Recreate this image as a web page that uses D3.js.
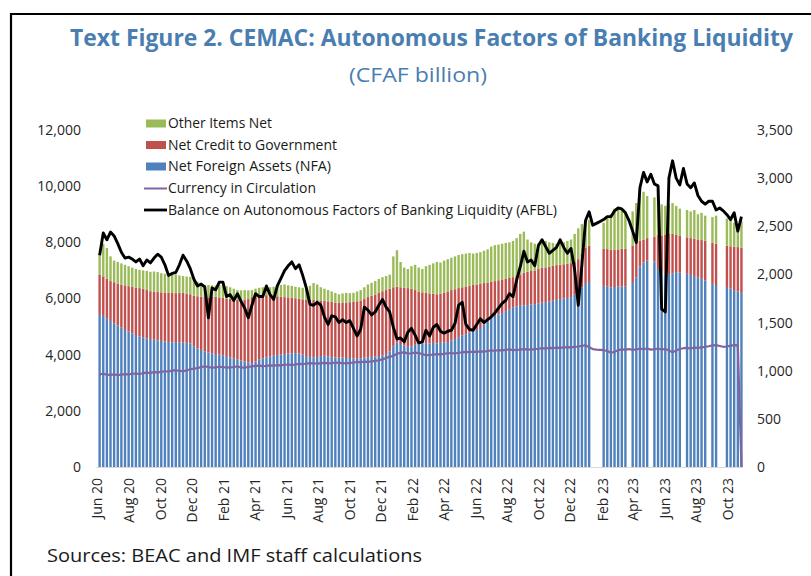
<!DOCTYPE html>
<html><head><meta charset="utf-8">
<script src="https://cdn.jsdelivr.net/npm/d3@7"></script>
<style>body{margin:0;background:#fff;} svg{display:block;font-family:"Open Sans",sans-serif;}</style>
</head><body><svg id="c" width="811" height="576"></svg>
<script>
// ---- data ----
const firstWeek = "2020-06-05", lastWeek = "2023-10-27";   // weekly observations
const tickLabels = ["Jun 20","Aug 20","Oct 20","Dec 20","Feb 21","Apr 21","Jun 21","Aug 21","Oct 21","Dec 21","Feb 22","Apr 22","Jun 22","Aug 22","Oct 22","Dec 22","Feb 23","Apr 23","Jun 23","Aug 23","Oct 23"];
const leftTicks = [0,2000,4000,6000,8000,10000,12000];
const rightTicks = [0,500,1000,1500,2000,2500,3000,3500];
const seriesNames = ["Other Items Net","Net Credit to Government","Net Foreign Assets (NFA)","Currency in Circulation","Balance on Autonomous Factors of Banking Liquidity (AFBL)"];

const nfa = [5450,5380,5300,5200,5120,5040,4960,4880,4820,4760,
 4700,4650,4620,4580,4560,4530,4510,4490,4470,4450,
 4440,4450,4430,4440,4420,4400,4300,4220,4170,4120,
 4080,4050,4020,4000,3980,3950,3900,3860,3820,3790,
 3760,3720,3700,3760,3820,3870,3900,3930,3960,3990,
 4000,4020,4040,4050,4060,4040,4000,3950,3920,3900,
 3920,3950,3960,3940,3910,3900,3890,3900,3880,3880,
 3860,3850,3870,3900,3910,3920,3930,3950,3980,4020,
 4120,4300,4440,4380,4320,4280,4300,4350,4390,4400,
 4410,4400,4420,4400,4420,4430,4450,4500,4560,4620,
 4680,4730,4790,4840,4880,4950,5080,5200,5300,5380,
 5430,5480,5550,5620,5690,5720,5740,5750,5770,5790,
 5800,5820,5850,5870,5890,5920,5950,5980,6000,6020,
 6050,6150,6280,6400,6520,6590,null,null,null,6450,
 6420,6400,6410,6420,6430,6420,null,6550,6750,7150,
 7280,7350,null,7320,7050,6900,6850,6870,6900,6940,
 6920,null,6880,6840,6800,6740,6700,6650,null,6520,
 6480,null,null,6410,6350,6300,6250,6200];
const ncg = [1390,1410,1400,1420,1460,1490,1530,1590,1620,1660,
 1690,1720,1730,1720,1700,1710,1720,1730,1740,1750,
 1760,1740,1780,1760,1760,1750,1800,1860,1890,1930,
 1960,2000,2040,2040,2040,2050,2080,2100,2130,2150,
 2190,2260,2350,2340,2300,2240,2220,2180,2140,2090,
 2060,2030,2000,1980,1950,1950,1970,2000,2020,2050,
 2020,1980,1960,1960,1970,1960,1960,1940,1970,1990,
 2020,2050,2060,2080,2140,2180,2210,2250,2280,2280,
 2230,2100,1980,2020,2060,2090,2050,1950,1860,1820,
 1790,1780,1750,1750,1750,1770,1800,1800,1770,1750,
 1720,1700,1660,1640,1620,1570,1470,1370,1290,1240,
 1220,1200,1150,1110,1070,1080,1120,1170,1180,1190,
 1200,1230,1240,1240,1240,1240,1240,1220,1220,1220,
 1210,1150,1120,1200,1280,1290,null,null,null,1330,
 1340,1340,1320,1330,1340,1360,null,1330,1200,900,
 820,800,null,880,1210,1350,1430,1450,1400,1320,
 1310,null,1300,1310,1330,1360,1380,1400,null,1460,
 1470,null,null,1470,1510,1550,1580,1600];
const oin = [760,1160,1100,880,770,770,760,730,710,680,
 660,650,650,680,690,720,710,680,670,660,
 640,660,610,600,600,620,600,520,460,430,
 440,420,400,440,450,440,420,390,350,350,
 350,310,250,250,260,290,300,290,320,370,
 420,450,430,420,410,410,410,400,510,600,
 560,470,430,400,370,340,300,340,350,320,
 320,350,370,420,450,460,480,500,500,500,
 500,1100,1300,900,720,680,800,900,850,830,
 950,1020,1080,1150,1110,1150,1150,1150,1170,1180,
 1180,1170,1170,1120,1120,1130,1150,1180,1260,1280,
 1270,1270,1280,1270,1290,1350,1440,1460,1150,1020,
 950,900,910,940,870,820,760,780,780,810,
 840,1000,1100,1050,950,920,null,null,null,920,
 1140,1260,1470,1500,1380,1270,null,1220,1450,1650,
 1700,1500,null,1400,1640,1100,1020,1030,1100,1040,
 970,null,970,950,1020,900,970,900,null,920,
 1000,null,null,970,940,850,770,950];
const cic = [3300,3320,3290,3280,3300,3270,3290,3310,3300,3320,
 3330,3310,3340,3360,3350,3380,3370,3390,3410,3400,
 3430,3450,3420,3410,3440,3480,3500,3520,3560,3580,
 3560,3540,3550,3570,3560,3540,3550,3560,3580,3550,
 3540,3560,3580,3600,3610,3590,3600,3620,3610,3630,
 3620,3640,3650,3630,3650,3670,3660,3680,3700,3690,
 3680,3700,3710,3690,3700,3720,3710,3700,3690,3710,
 3720,3740,3730,3750,3740,3760,3780,3800,3830,3880,
 3920,3960,4030,4070,4080,4040,4050,4070,4060,4020,
 3980,3990,4000,4020,4010,4030,4050,4060,4040,4070,
 4080,4100,4090,4110,4100,4120,4110,4130,4150,4140,
 4160,4150,4170,4190,4160,4170,4180,4200,4190,4180,
 4200,4210,4230,4220,4240,4230,4250,4240,4260,4270,
 4260,4280,4290,4310,4340,4260,4200,4180,4170,4160,
 4130,4070,4100,4160,4190,4180,4200,4170,4190,4210,
 4200,4220,4180,4200,4210,4190,4200,4150,4090,4150,
 4200,4230,4240,4220,4250,4240,4260,4280,4300,4330,
 4340,4310,4280,4290,4320,4340,4330,0];
const afbl = [2200,2430,2360,2440,2400,2320,2230,2170,2180,2160,
 2130,2160,2090,2150,2120,2170,2210,2180,2100,1990,
 2010,2020,2100,2200,2140,2060,1950,1880,1900,1870,
 1550,1860,1840,1920,1920,1770,1790,1730,1800,1720,
 1650,1550,1680,1800,1770,1770,1880,1790,1740,1880,
 1960,2040,2090,2130,2060,2100,1990,1860,1690,1680,
 1710,1680,1560,1480,1570,1560,1500,1530,1500,1520,
 1440,1360,1430,1660,1630,1580,1610,1680,1740,1660,
 1610,1450,1330,1340,1300,1400,1440,1370,1290,1300,
 1420,1360,1450,1480,1410,1390,1410,1420,1490,1680,
 1710,1480,1430,1420,1480,1540,1500,1530,1560,1600,
 1650,1700,1730,1800,1770,1940,2080,2240,2130,2150,
 2090,2300,2360,2290,2220,2250,2280,2360,2280,2220,
 2270,2050,1680,2100,2560,2650,2510,2530,2550,2570,
 2600,2600,2660,2690,2680,2640,2560,2450,2330,2900,
 3060,2960,3040,2940,2920,1640,1610,3000,3180,3000,
 2930,3100,2940,2900,2950,2820,2760,2730,2760,2760,
 2670,2690,2660,2620,2570,2640,2450,2600];

// ---- setup ----
const C = {green:"#9BBB59", red:"#C0504D", blue:"#4F81BD", purple:"#8064A2", black:"#000", title:"#4A7EB0", text:"#262626"};
const svg = d3.select("#c");
const parse = d3.timeParse("%Y-%m-%d");
const dates = d3.timeDay.range(parse(firstWeek), d3.timeDay.offset(parse(lastWeek),1), 7);
const x = d3.scaleTime().domain([parse("2020-05-29"), parse("2023-10-30")]).range([96,743]);
const yL = d3.scaleLinear().domain([0,12000]).range([467,130]);
const yR = d3.scaleLinear().domain([0,3500]).range([467,130]);

// frame
svg.append("line").attr("x1",10).attr("x2",811).attr("y1",14).attr("y2",14).attr("stroke","#000").attr("stroke-width",2.2);
svg.append("line").attr("x1",11).attr("x2",11).attr("y1",13).attr("y2",576).attr("stroke","#000").attr("stroke-width",2.2);

// titles
svg.append("text").attr("x",431.5).attr("y",46).attr("text-anchor","middle")
  .attr("font-size",23).attr("font-weight","bold").attr("fill",C.title)
  .attr("textLength",723).attr("lengthAdjust","spacingAndGlyphs")
  .text("Text Figure 2. CEMAC: Autonomous Factors of Banking Liquidity");
svg.append("text").attr("x",418).attr("y",82).attr("text-anchor","middle")
  .attr("font-size",20).attr("fill",C.title)
  .attr("textLength",138).attr("lengthAdjust","spacingAndGlyphs")
  .text("(CFAF billion)");

// baseline
svg.append("line").attr("x1",96).attr("x2",743).attr("y1",yL(0)+0.5).attr("y2",yL(0)+0.5).attr("stroke","#D9D9D9").attr("stroke-width",1.2);

// bars
const bw = 2.4;
const rows = dates.map((d,i)=>({d, nfa:nfa[i], ncg:ncg[i], oin:oin[i]})).filter(r=>r.nfa!==null);
const gBars = svg.append("g");
const stackDefs = [
  {key:"nfa", color:C.blue, lo:r=>0, hi:r=>r.nfa},
  {key:"ncg", color:C.red, lo:r=>r.nfa, hi:r=>r.nfa+r.ncg},
  {key:"oin", color:C.green, lo:r=>r.nfa+r.ncg, hi:r=>r.nfa+r.ncg+r.oin}
];
stackDefs.forEach(s=>{
  gBars.selectAll("rect."+s.key).data(rows).enter().append("rect").attr("class",s.key)
    .attr("x",r=>x(r.d)-bw/2).attr("width",bw)
    .attr("y",r=>yL(s.hi(r))).attr("height",r=>yL(s.lo(r))-yL(s.hi(r)))
    .attr("fill",s.color);
});

// lines
const cicLine = d3.line().x((d,i)=>x(dates[i])).y(d=>yL(d));
svg.append("path").datum(cic).attr("d",cicLine).attr("fill","none").attr("stroke",C.purple).attr("stroke-width",2.2).attr("stroke-linejoin","round");
const afLine = d3.line().x((d,i)=>x(dates[i])).y(d=>yR(d));
svg.append("path").datum(afbl).attr("d",afLine).attr("fill","none").attr("stroke",C.black).attr("stroke-width",2.9).attr("stroke-linejoin","round");

// axes
const fmt = d3.format(",");
const axL = svg.append("g").attr("transform","translate(81,0)")
  .call(d3.axisLeft(yL).tickValues(leftTicks).tickFormat(fmt).tickSize(0).tickPadding(0));
const axR = svg.append("g").attr("transform","translate(757,0)")
  .call(d3.axisRight(yR).tickValues(rightTicks).tickFormat(fmt).tickSize(0).tickPadding(0));
[axL,axR].forEach(a=>{
  a.select(".domain").remove();
  a.selectAll("text").attr("font-size",14).attr("fill",C.text).attr("font-family","'Open Sans',sans-serif");
});
const tp = d3.timeParse("%b %y");
const axX = svg.append("g");
axX.selectAll("text").data(tickLabels).enter().append("text")
  .attr("transform",t=>`translate(${x(tp(t))},478) rotate(-90)`)
  .attr("text-anchor","end").attr("dy","0.35em")
  .attr("font-size",14).attr("fill",C.text).text(t=>t);

// legend
const lg = svg.append("g");
const ly = [123.5,145,166.5,188.5,210];
[C.green,C.red,C.blue].forEach((c,i)=>{
  lg.append("rect").attr("x",146).attr("y",ly[i]-4).attr("width",20).attr("height",8).attr("fill",c);
});
lg.append("line").attr("x1",144).attr("x2",167).attr("y1",ly[3]).attr("y2",ly[3]).attr("stroke",C.purple).attr("stroke-width",2);
lg.append("line").attr("x1",144).attr("x2",167).attr("y1",ly[4]).attr("y2",ly[4]).attr("stroke",C.black).attr("stroke-width",2.8);
const lw = [104,169,163,148,389];
seriesNames.forEach((n,i)=>{
  lg.append("text").attr("x",168).attr("y",ly[i]).attr("dy","0.35em")
    .attr("font-size",14).attr("fill","#1a1a1a")
    .attr("textLength",lw[i]).attr("lengthAdjust","spacingAndGlyphs").text(n);
});

// source
svg.append("text").attr("x",47).attr("y",562).attr("font-size",19).attr("fill","#1a1a1a")
  .attr("textLength",375).attr("lengthAdjust","spacingAndGlyphs")
  .text("Sources: BEAC and IMF staff calculations");
</script></body></html>
